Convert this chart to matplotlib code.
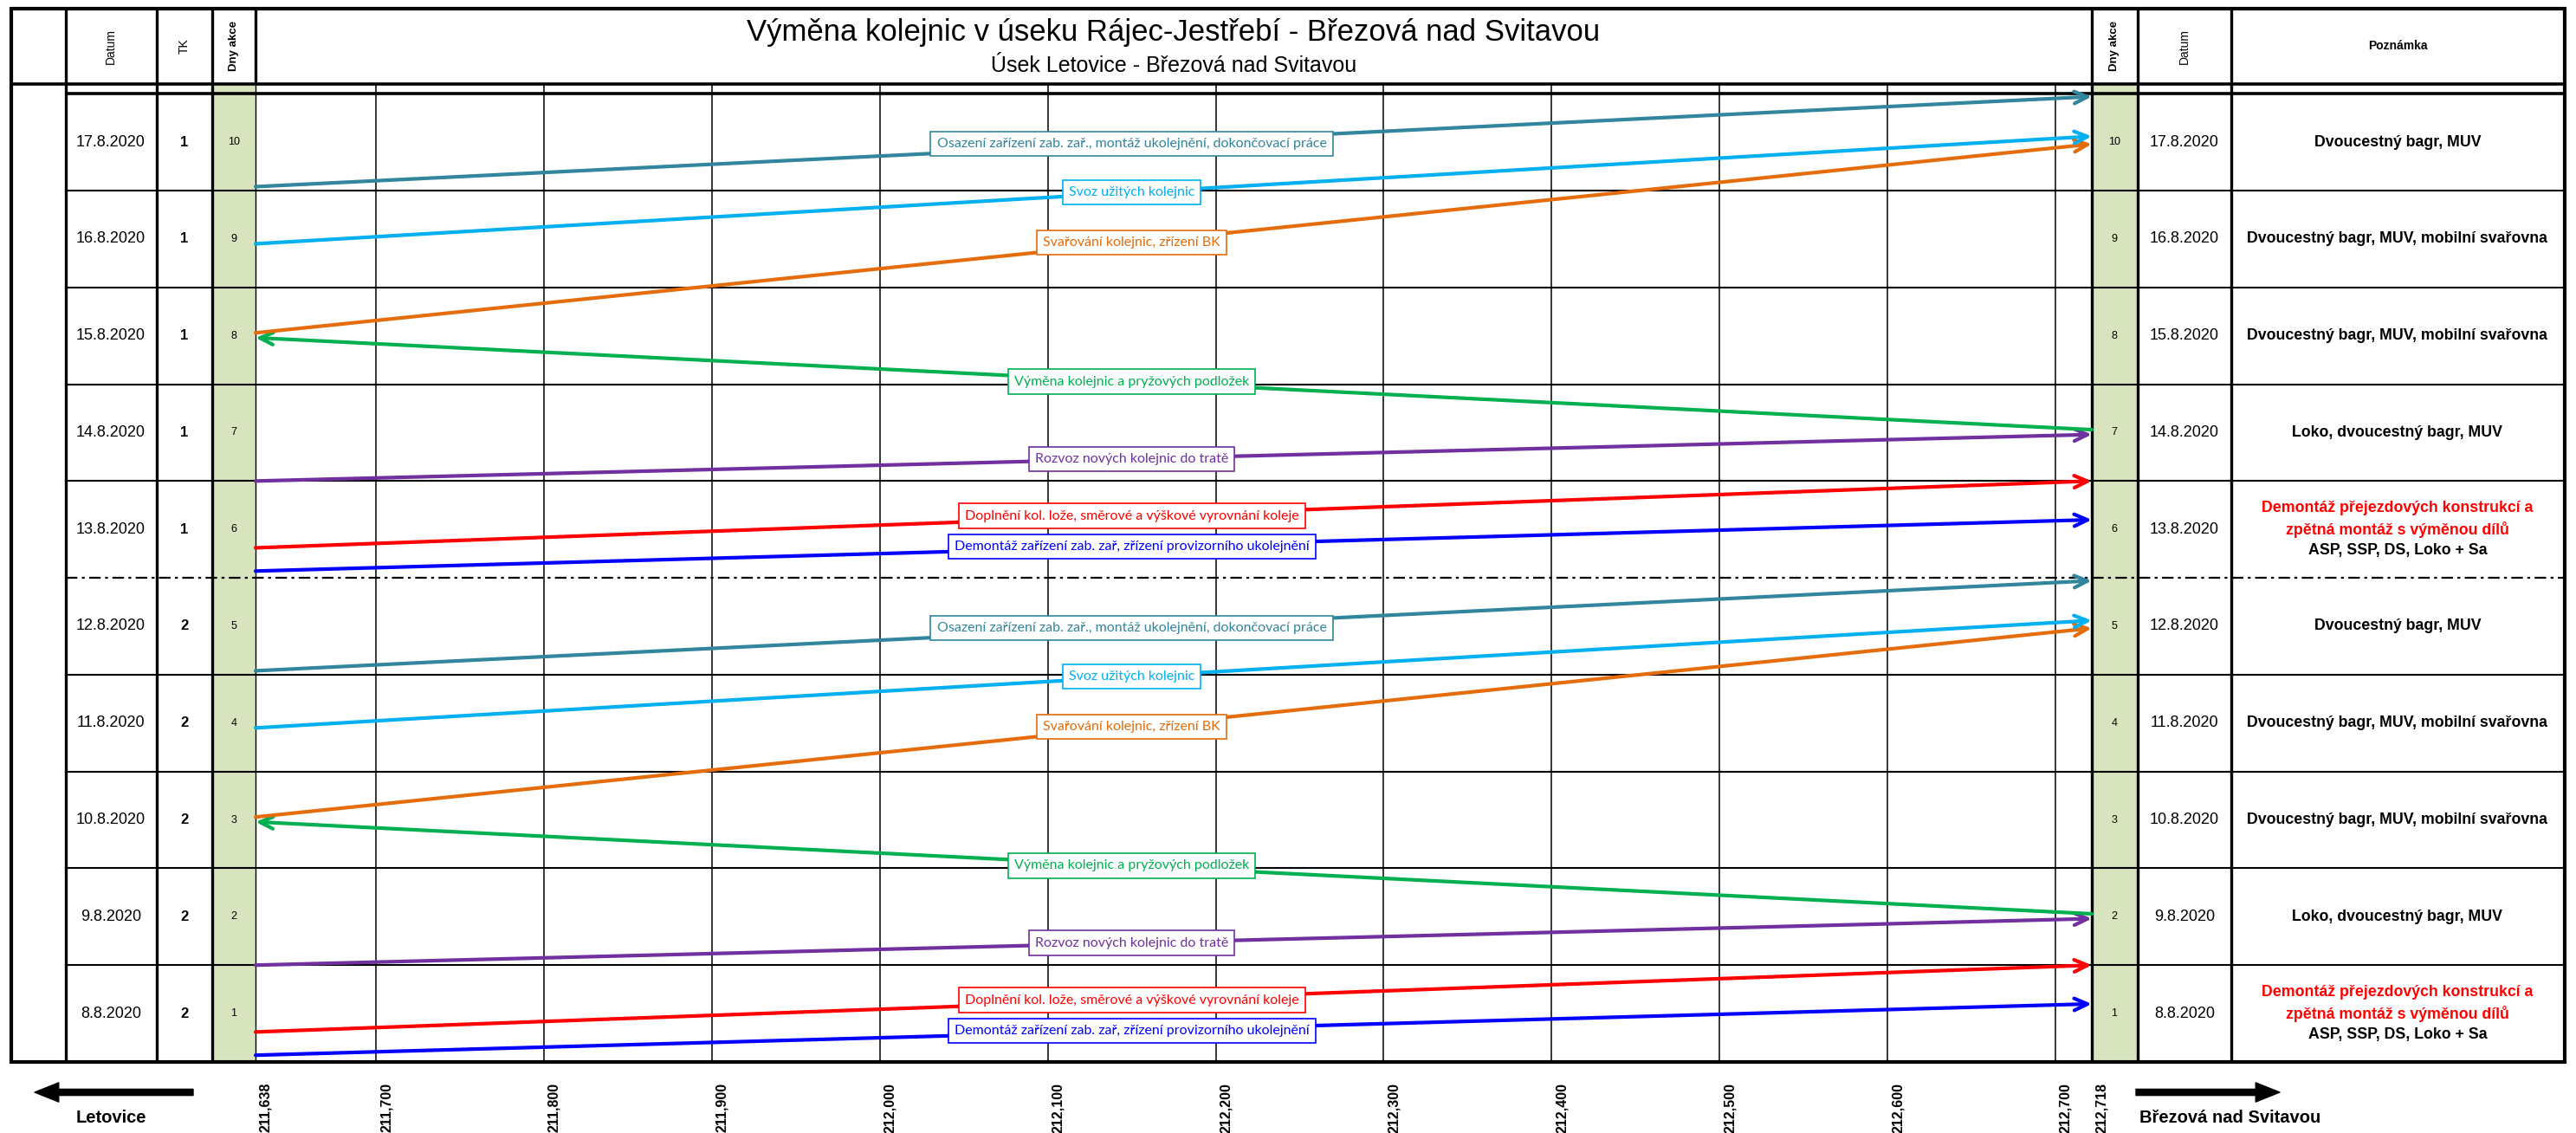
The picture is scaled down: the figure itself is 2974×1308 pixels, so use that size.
import numpy as np
import matplotlib
matplotlib.use('Agg')
import matplotlib.pyplot as plt
from matplotlib.patches import Rectangle
from matplotlib.transforms import blended_transform_factory, ScaledTranslation

# table rows (day 1 = bottom row)
days = [1, 2, 3, 4, 5, 6, 7, 8, 9, 10]
dates = ['8.8.2020', '9.8.2020', '10.8.2020', '11.8.2020', '12.8.2020',
         '13.8.2020', '14.8.2020', '15.8.2020', '16.8.2020', '17.8.2020']
tk = [2, 2, 2, 2, 2, 1, 1, 1, 1, 1]
notes_red = ['Demontáž přejezdových konstrukcí a\nzpětná montáž s výměnou dílů', '', '', '', '',
             'Demontáž přejezdových konstrukcí a\nzpětná montáž s výměnou dílů', '', '', '', '']
notes = ['ASP, SSP, DS, Loko + Sa',
         'Loko, dvoucestný bagr, MUV',
         'Dvoucestný bagr, MUV, mobilní svařovna',
         'Dvoucestný bagr, MUV, mobilní svařovna',
         'Dvoucestný bagr, MUV',
         'ASP, SSP, DS, Loko + Sa',
         'Loko, dvoucestný bagr, MUV',
         'Dvoucestný bagr, MUV, mobilní svařovna',
         'Dvoucestný bagr, MUV, mobilní svařovna',
         'Dvoucestný bagr, MUV']

# activities (arrows): two identical weeks
act_names = ['Demontáž zařízení zab. zař, zřízení provizorního ukolejnění',
             'Doplnění kol. lože, směrové a výškové vyrovnání koleje',
             'Rozvoz nových kolejnic do tratě',
             'Výměna kolejnic a pryžových podložek',
             'Svařování kolejnic, zřízení BK',
             'Svoz užitých kolejnic',
             'Osazení zařízení zab. zař., montáž ukolejnění, dokončovací práce']
act_colors = ['#0000FF', '#FF0000', '#7030A0', '#00B050', '#E46C0A', '#00B0F0', '#31859C']
act_km_from = [211638, 211638, 211638, 212718, 211638, 211638, 211638]
act_km_to = [212718, 212718, 212718, 211638, 212718, 212718, 212718]
week1_t_from = [0.07, 0.31, 1.00, 1.53, 2.53, 3.45, 4.04]
week1_t_to = [0.60, 1.00, 1.48, 2.48, 4.48, 4.56, 4.97]
week2_t_from = [5.07, 5.31, 6.00, 6.53, 7.53, 8.45, 9.04]
week2_t_to = [5.60, 6.00, 6.48, 7.48, 9.48, 9.56, 9.97]
label_km = 212150

# chainage ticks
km_ticks = [211638, 211700, 211800, 211900, 212000, 212100, 212200,
            212300, 212400, 212500, 212600, 212700, 212718]
km_grid = [211700, 211800, 211900, 212000, 212100, 212200,
           212300, 212400, 212500, 212600, 212700]

title = 'Výměna kolejnic v úseku Rájec-Jestřebí - Březová nad Svitavou'
subtitle = 'Úsek Letovice - Březová nad Svitavou'

GREEN = '#D7E4BD'
W, H = 2974, 1308
ARIAL = ['Liberation Sans']
CAL = ['Lato']

# the drawing has the edge sections narrower than the 100 m sections
km_ref = [211638, 211700, 212700, 212718]
px_ref = [0, 139, 2078, 2120]
def fwd(x):
    return np.interp(x, km_ref, px_ref)
def inv(p):
    return np.interp(p, px_ref, km_ref)

fig = plt.figure(figsize=(W / 100, H / 100), dpi=100)
bg = fig.add_axes([0, 0, 1, 1])
bg.set_xlim(0, W)
bg.set_ylim(H, 0)
bg.axis('off')

# chart area
cx0, cx1, cy0, cy1 = 295, 2415, 97, 1226
ax = fig.add_axes([cx0 / W, (H - cy1) / H, (cx1 - cx0) / W, (cy1 - cy0) / H])
ax.set_xscale('function', functions=(fwd, inv))
ax.set_xlim(211638, 212718)
ax.set_ylim(0, 10.1)
ax.patch.set_visible(False)
for s in ax.spines.values():
    s.set_visible(False)
ax.set_xticks([])
ax.set_yticks([])

tr = blended_transform_factory(bg.transData, ax.transData)

# green columns
bg.add_patch(Rectangle((245, cy0), 50, cy1 - cy0, fc=GREEN, ec='none', zorder=0))
bg.add_patch(Rectangle((2415, cy0), 53, cy1 - cy0, fc=GREEN, ec='none', zorder=0))

# table frame
bg.add_patch(Rectangle((13, 10), 2948, 1216, fill=False, lw=3, ec='black', zorder=5))
bg.hlines(97, 13, 2961, lw=2.6, color='black', zorder=5)
bg.hlines(108, 76, 2961, lw=2.6, color='black', zorder=5)
bg.vlines([76, 181, 245, 2415, 2468, 2576], 10, 1226, lw=2.4, color='black', zorder=5)
bg.vlines(295, 10, 97, lw=2.4, color='black', zorder=5)
bg.vlines(295, 97, 1226, lw=1.0, color='black', zorder=5)
for d in days[:-1]:
    if d == 5:
        bg.plot([76, 2961], [d, d], transform=tr, color='black', lw=1.6,
                ls=(0, (6, 2.3, 1.5, 2.3)), zorder=4)
    else:
        bg.plot([76, 2961], [d, d], transform=tr, color='black', lw=1.5, zorder=4)

# grid in chart
ax.vlines(km_grid, 0, 10.1, color='black', lw=1.1, zorder=1)

# header texts
bg.text((cx0 + cx1) / 2, 37, title, ha='center', va='center', fontsize=25, family=ARIAL)
bg.text((cx0 + cx1) / 2, 76, subtitle, ha='center', va='center', fontsize=18, family=ARIAL)
hy = 53
bg.text(128, hy, 'Datum', rotation=90, ha='center', va='center', fontsize=10, family=ARIAL)
bg.text(213, hy, 'TK', rotation=90, ha='center', va='center', fontsize=10, family=ARIAL)
bg.text(270, hy, 'Dny akce', rotation=90, ha='center', va='center', fontsize=9.5,
        fontweight='bold', family=ARIAL)
bg.text(2441, hy, 'Dny akce', rotation=90, ha='center', va='center', fontsize=9.5,
        fontweight='bold', family=ARIAL)
bg.text(2522, hy, 'Datum', rotation=90, ha='center', va='center', fontsize=10, family=ARIAL)
bg.text(2768, hy, 'Poznámka', ha='center', va='center', fontsize=10,
        fontweight='bold', family=ARIAL)

# row texts
for d, dt, t, nr, n in zip(days, dates, tk, notes_red, notes):
    yc = d - 0.5
    bg.text(128, yc, dt, transform=tr, ha='center', va='center', fontsize=13, family=ARIAL)
    bg.text(2522, yc, dt, transform=tr, ha='center', va='center', fontsize=13, family=ARIAL)
    bg.text(213, yc, str(t), transform=tr, ha='center', va='center', fontsize=12,
            fontweight='bold', family=ARIAL)
    bg.text(270, yc, str(d), transform=tr, ha='center', va='center', fontsize=9, family=ARIAL)
    bg.text(2441, yc, str(d), transform=tr, ha='center', va='center', fontsize=9, family=ARIAL)
    if nr:
        for k, line in enumerate(nr.split('\n')):
            bg.text(2768, yc + 0.22 - 0.22 * k, line, transform=tr, ha='center', va='center',
                    fontsize=12.8, fontweight='bold', color='#FF0000', family=ARIAL)
        bg.text(2768, yc - 0.22, n, transform=tr, ha='center', va='center',
                fontsize=12.8, fontweight='bold', family=ARIAL)
    else:
        bg.text(2768, yc, n, transform=tr, ha='center', va='center',
                fontsize=12.8, fontweight='bold', family=ARIAL)

# arrows
for t_from, t_to in [(week1_t_from, week1_t_to), (week2_t_from, week2_t_to)]:
    for name, col, k0, k1, t0, t1 in zip(act_names, act_colors, act_km_from, act_km_to, t_from, t_to):
        ax.annotate('', xy=(k1, t1), xytext=(k0, t0), annotation_clip=False,
                    arrowprops=dict(arrowstyle='->,head_length=1.1,head_width=0.5',
                                    color=col, lw=3, shrinkA=0, shrinkB=0), zorder=3)
        f = (fwd(label_km) - fwd(k0)) / (fwd(k1) - fwd(k0))
        ty = t0 + f * (t1 - t0)
        ax.text(label_km, ty, name, ha='center', va='center', color=col, fontsize=11.5,
                family=CAL, zorder=6,
                bbox=dict(boxstyle='square,pad=0.45', fc='white', ec=col, lw=1.2))

# chainage labels
off = ScaledTranslation(0.12, -0.24, fig.dpi_scale_trans)
xtr = blended_transform_factory(ax.transData, ax.transAxes) + off
for v in km_ticks:
    ax.text(v, 0, f'{v / 1000:.3f}'.replace('.', ','), transform=xtr, rotation=90,
            ha='center', va='top', fontsize=11.5, fontweight='bold', family=ARIAL, clip_on=False)

# direction arrows
bg.annotate('', xy=(40, 1261), xytext=(223, 1261),
            arrowprops=dict(arrowstyle='simple,head_length=1.0,head_width=0.8,tail_width=0.26',
                            fc='black', ec='black', mutation_scale=20, shrinkA=0, shrinkB=0))
bg.annotate('', xy=(2632, 1261), xytext=(2466, 1261),
            arrowprops=dict(arrowstyle='simple,head_length=1.0,head_width=0.8,tail_width=0.26',
                            fc='black', ec='black', mutation_scale=20, shrinkA=0, shrinkB=0))
bg.text(128, 1290, 'Letovice', ha='center', va='center', fontsize=14.5,
        fontweight='bold', family=ARIAL)
bg.text(2470, 1290, 'Březová nad Svitavou', ha='left', va='center', fontsize=14.5,
        fontweight='bold', family=ARIAL)

fig.savefig('out.png', dpi=100, facecolor='white')
